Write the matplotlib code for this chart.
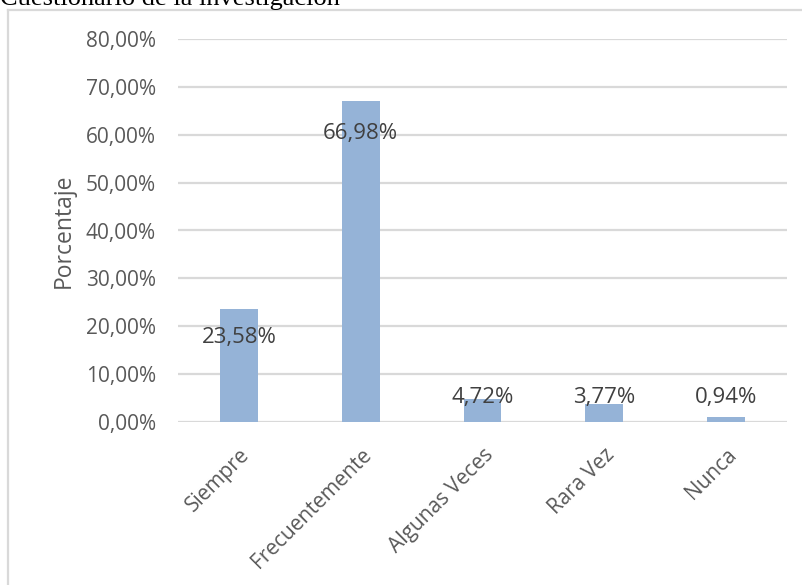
import matplotlib
matplotlib.use("Agg")
import matplotlib.pyplot as plt
from matplotlib.lines import Line2D

categories = ["Siempre", "Frecuentemente", "Algunas Veces", "Rara Vez", "Nunca"]
values = [23.58, 66.98, 4.72, 3.77, 0.94]
labels = ["23,58%", "66,98%", "4,72%", "3,77%", "0,94%"]
label_y = [17.6, 60.3, 5.2, 5.2, 5.2]
yticks = [0, 10, 20, 30, 40, 50, 60, 70, 80]
ytick_labels = ["%d,00%%" % v for v in yticks]

W, H = 803, 585
fig = plt.figure(figsize=(W / 100, H / 100), dpi=100)

# chart frame (cropped on right and bottom)
fig.add_artist(Line2D([8 / W, 8 / W], [0, 1 - 10 / H], color="#d9d9d9", lw=1.6))
fig.add_artist(Line2D([8 / W, 1], [1 - 10 / H, 1 - 10 / H], color="#d9d9d9", lw=1.6))

fig.text(0, 1 - 5 / H, "Cuestionario de la investigación", family="Liberation Serif",
         fontsize=19, va="baseline", ha="left", color="black")

ax = fig.add_axes([178 / W, 1 - 422 / H, (787 - 178) / W, (422 - 39) / H])
x = range(len(categories))
ax.bar(x, values, width=0.31, color="#95b3d7", zorder=3)

for i, t in enumerate(labels):
    ax.text(i, label_y[i], t, ha="center", va="center", fontsize=16,
            family="Open Sans", color="#404040", zorder=4)

ax.set_xlim(-0.5, 4.5)
ax.set_ylim(0, 80)
ax.set_yticks(yticks)
ax.set_yticklabels(ytick_labels, family="Open Sans", fontsize=15, color="#595959")
ax.set_xticks(list(x))
ax.set_xticklabels(categories, rotation=45, ha="right", rotation_mode="anchor",
                   family="Open Sans", fontsize=15, color="#595959")
ax.tick_params(length=0, pad=16, axis="y")
ax.tick_params(length=0, pad=16, axis="x")
ax.grid(axis="y", color="#d9d9d9", lw=1.6, zorder=0)
for s in ax.spines.values():
    s.set_visible(False)
ax.set_ylabel("Porcentaje", family="Open Sans", fontsize=16.5, color="#595959", labelpad=7)

fig.savefig("out.png", dpi=100)
